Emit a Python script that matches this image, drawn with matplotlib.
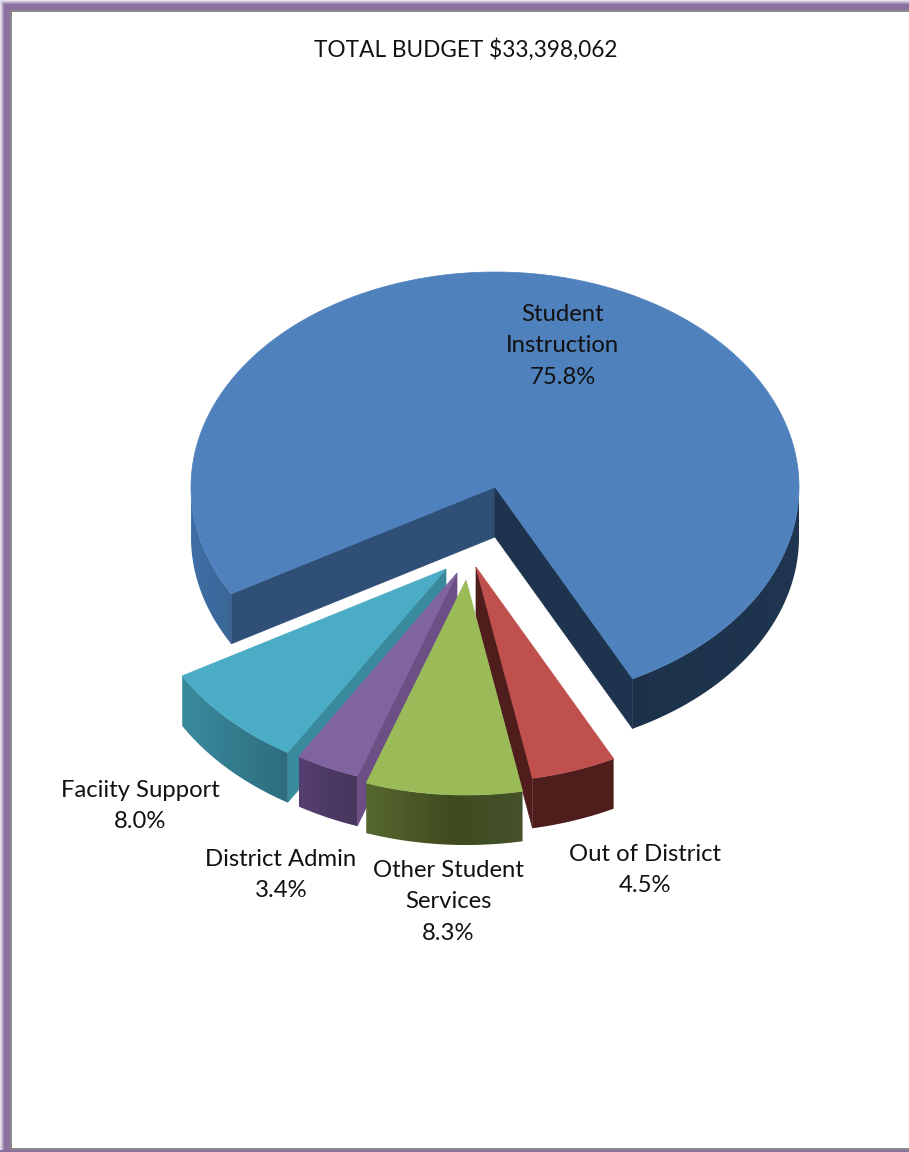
import numpy as np
import matplotlib
matplotlib.use("Agg")
from matplotlib import pyplot as plt
from matplotlib.colors import to_rgb, LinearSegmentedColormap
from matplotlib.patches import Polygon

title = "TOTAL BUDGET $33,398,062"

# clockwise from the left edge of the big slice
names = ["Student\nInstruction", "Out of District", "Other Student\nServices",
         "District Admin", "Faciity Support"]
values = [75.8, 4.5, 8.3, 3.4, 8.0]

top_colors = ["#4f81bd", "#c0504d", "#9bbb59", "#8064a2", "#4bacc6"]
high_face_colors = ["#2f4f77", "#4f1e1c", "#3f4a1e", "#6b4f85", "#3a8a9e"]
low_face_colors = ["#1e344e", "#4f1e1c", "#3f4a1e", "#6b4f85", "#3a8a9e"]
# wall shading, left to right across each slice
wall_colors = [[(0, "#3f6fa6"), (0.07, "#3a6595"), (0.66, "#1d3249"), (1, "#1f3550")],
               [(0, "#4f1e1c"), (1, "#4f1e1c")],
               [(0, "#57682f"), (0.55, "#3f4a1e"), (1, "#45522a")],
               [(0, "#553f70"), (1, "#46365a")],
               [(0, "#3a8a9e"), (1, "#2e6d7e")]]

# how far each slice is pulled out of the pie, in pixels
shift_x = [0, -19, -29, -38, -49]
shift_y = [0, 80, 93, 86, 82]

# pie geometry, in pixels
cx, cy = 495, 487
rx, ry = 304, 215
depth = 50
start_angle = 209.8

label_x = [563, 645, 448, 281, 140]
label_y = [346, 870, 902, 875, 806]

draw_order = [0, 4, 3, 1, 2]

plt.rcParams['font.family'] = ['Lato', 'DejaVu Sans']

fig = plt.figure(figsize=(9.09, 11.52), dpi=100)
ax = fig.add_axes([0, 0, 1, 1])
ax.axis("off")


def project(angle, x0, y0):
    a = np.radians(angle)
    return x0 + rx * np.cos(a), y0 - ry * np.sin(a)


def draw_wall(i, run, x0, y0, lo, hi, z):
    fx, fy = project(run, x0, y0)
    pts = np.c_[np.r_[fx, fx[::-1]], np.r_[fy, fy[::-1] + depth]]
    poly = Polygon(pts, closed=True, fc="none", ec="none", transform=ax.transData)
    ax.add_patch(poly)
    cmap = LinearSegmentedColormap.from_list("wall", wall_colors[i])
    grad = np.linspace(0, 1, 256).reshape(1, -1)
    im = ax.imshow(grad, extent=(lo, hi, fy.max() + depth + 2, fy.min() - 2),
                   cmap=cmap, vmin=0, vmax=1, aspect="auto", zorder=z,
                   interpolation="bilinear")
    im.set_clip_path(poly)


def draw_slice(i, high, low):
    x0 = cx + shift_x[i]
    y0 = cy + shift_y[i]
    z = 2 + draw_order.index(i)
    angles = np.append(np.arange(low, high, 0.5), high)
    px, py = project(angles, x0, y0)

    # flat sides, only the ones turned to the viewer
    if np.cos(np.radians(high)) < 0:
        ex, ey = project(high, x0, y0)
        ax.fill([x0, ex, ex, x0], [y0, ey, ey + depth, y0 + depth],
                color=high_face_colors[i], lw=0.5, zorder=z)
    if -np.cos(np.radians(low)) < 0:
        ex, ey = project(low, x0, y0)
        ax.fill([x0, ex, ex, x0], [y0, ey, ey + depth, y0 + depth],
                color=low_face_colors[i], lw=0.5, zorder=z)

    # outer wall, front part only, may come apart in two runs
    front = np.sin(np.radians(angles)) <= 0.001
    runs = np.split(angles[front], np.where(np.diff(np.where(front)[0]) > 1)[0] + 1)
    fx_all = project(angles[front], x0, y0)[0]
    for run in runs:
        if len(run) > 1:
            draw_wall(i, run, x0, y0, fx_all.min(), fx_all.max(), z)

    # top
    ax.fill(np.r_[x0, px], np.r_[y0, py], color=top_colors[i], lw=0.5, zorder=z)


spans = np.array(values) / sum(values) * 360
angle = start_angle
for i in range(len(values)):
    draw_slice(i, angle, angle - spans[i])
    angle -= spans[i]

ax.set_xlim(0, 909)
ax.set_ylim(1152, 0)

for i in range(len(values)):
    ax.text(label_x[i], label_y[i], "%s\n%.1f%%" % (names[i], values[i]),
            ha="center", va="center", fontsize=17.2, color="#111111",
            linespacing=1.62, zorder=20)

ax.text(466, 50, title, ha="center", va="center", fontsize=16.3, color="#111111")

# frame: soft purple band with a thin grey line inside
purple = np.array(to_rgb("#8b71a0"))
white = np.ones(3)
for k in range(5):
    col = white + (purple - white) * (k + 1) / 5
    ax.fill([k, k + 1, k + 1, k], [k, k, 1152, 1152], color=col, lw=0, zorder=30)
    ax.fill([k, 909, 909, k], [k, k, k + 1, k + 1], color=col, lw=0, zorder=30)
ax.fill([4, 10, 10, 4], [4, 4, 1152, 1152], color=purple, lw=0, zorder=30)
ax.fill([4, 909, 909, 4], [4, 4, 10, 10], color=purple, lw=0, zorder=30)
ax.fill([0, 909, 909, 0], [1150, 1150, 1152, 1152], color=purple, lw=0, zorder=30)
ax.fill([10, 12, 12, 10], [10, 10, 1150, 1150], color="#8a8a8a", lw=0, zorder=31)
ax.fill([10, 909, 909, 10], [10, 10, 12, 12], color="#8a8a8a", lw=0, zorder=31)
ax.fill([10, 909, 909, 10], [1148, 1148, 1150, 1150], color="#8a8a8a", lw=0, zorder=31)

fig.savefig("out.png", dpi=100)
